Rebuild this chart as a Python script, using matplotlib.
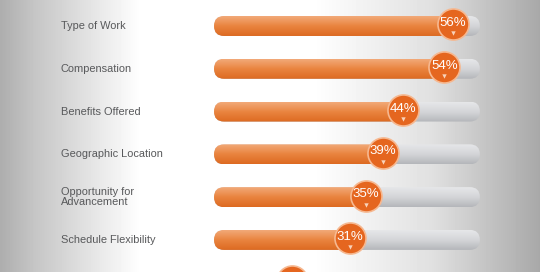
import numpy as np
import matplotlib.pyplot as plt
from matplotlib.patches import FancyBboxPatch
from matplotlib.colors import LinearSegmentedColormap

# data
labels = ['Type of Work', 'Compensation', 'Benefits Offered', 'Geographic Location',
          'Opportunity for\nAdvancement', 'Schedule Flexibility', 'Company Reputation']
values = [56, 54, 44, 39, 35, 31, 17]
track_max = 62.6

plt.rcParams['font.family'] = ['Liberation Sans', 'DejaVu Sans']

fig = plt.figure(figsize=(5.4, 2.72), dpi=100)

# background: gray at both sides, white in the middle
bg = fig.add_axes([0, 0, 1, 1])
pos = [0, 0.06, 0.26, 0.58, 0.80, 1.0]
lev = [0.68, 0.77, 1.0, 1.0, 0.88, 0.66]
xs = np.linspace(0, 1, 540)
prof = np.interp(xs, pos, lev)
bg.imshow(np.tile(prof, (10, 1)), cmap='gray', vmin=0, vmax=1, aspect='auto',
          extent=[0, 1, 0, 1])
bg.set_axis_off()

ax = fig.add_axes([0, 0, 1, 1])
ax.patch.set_alpha(0)
ax.set_xlim(-53.9, 77.2)
ax.set_ylim(5.75, -0.607)
ax.set_axis_off()

px_x = 1 / 4.12      # data units per pixel, x
px_y = 1 / 42.8      # data units per pixel, y
bar_h = 20 * px_y
rs = 10 * px_x
asp = px_y / px_x

orange = LinearSegmentedColormap.from_list('o', ['#f2a978', '#e9843f', '#dd6a22'])
grey = LinearSegmentedColormap.from_list('g', ['#e6e7e9', '#d4d5d8', '#b5b7bb'])
grad = np.linspace(0, 1, 50).reshape(-1, 1)

def rounded_bar(x0, x1, y, cmap, z):
    p = FancyBboxPatch((x0, y - bar_h / 2), x1 - x0, bar_h,
                       boxstyle=f'round,pad=0,rounding_size={rs}',
                       mutation_aspect=asp, facecolor='none', edgecolor='none')
    ax.add_patch(p)
    im = ax.imshow(grad, cmap=cmap, aspect='auto', zorder=z,
                   extent=[x0, x1, y + bar_h / 2, y - bar_h / 2])
    im.set_clip_path(p)

x_start = (214 - 222) * px_x  # left edge of the track
for i, (lab, v) in enumerate(zip(labels, values)):
    ax.text(-39.1, i, lab, ha='left', va='center', fontsize=7.9,
            color='#58595b', linespacing=1.05)
    rounded_bar(x_start, track_max, i, grey, 2)
    rounded_bar(x_start, v + 1.5, i, orange, 3)
    ax.scatter(v, i - 1.5 * px_y, s=500, color='#e5661f', edgecolor='#f6b890',
               linewidth=1.2, zorder=4)
    ax.text(v, i - 3 * px_y, f'{v}%', ha='center', va='center', fontsize=9.5,
            color='white', zorder=5)
    ax.scatter(v, i + 7.5 * px_y, s=10, marker='v', color='#f8d3bb',
               linewidth=0, zorder=5)

ax.set_ylim(5.75, -0.607)
fig.savefig('out.png', dpi=100)
